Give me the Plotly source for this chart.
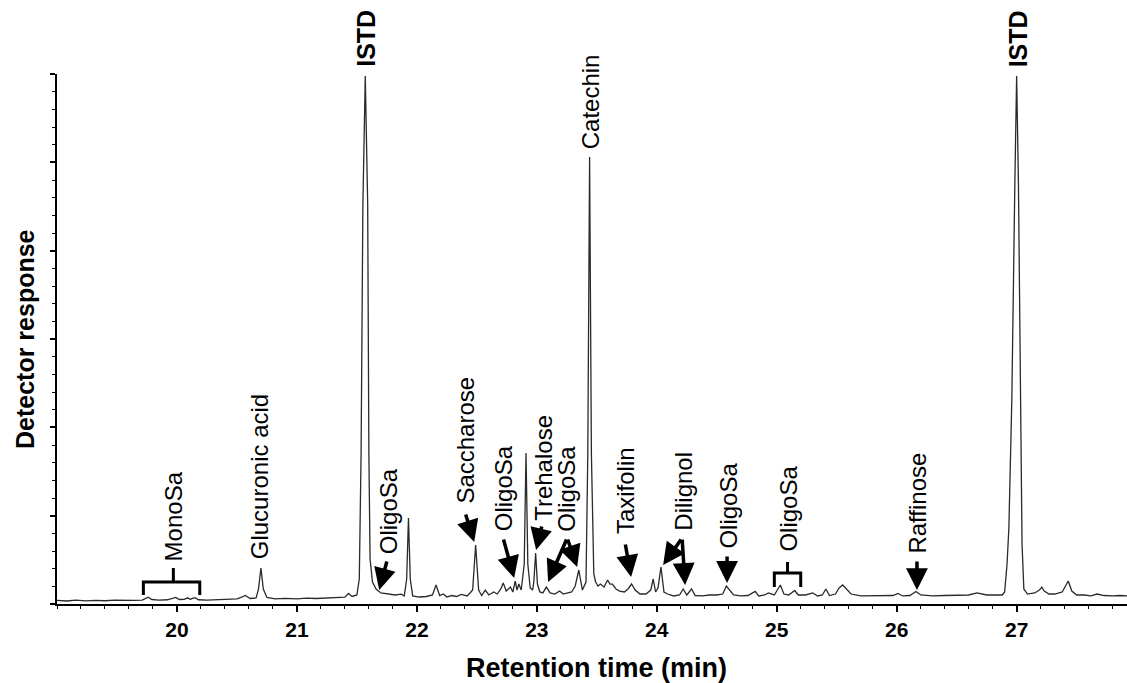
import plotly.graph_objects as go

# ---- chromatogram trace (retention time in min, detector response in arbitrary units) ----
retention_time = [
    19.00, 19.08, 19.16, 19.24, 19.32, 19.40, 19.48, 19.56, 19.64, 19.71,
    19.74, 19.76, 19.79, 19.85, 19.92, 19.97, 19.99, 20.02, 20.06, 20.09,
    20.11, 20.15, 20.18, 20.25, 20.33, 20.42, 20.50, 20.54, 20.57, 20.61,
    20.66, 20.68, 20.70, 20.72, 20.75, 20.82, 20.90, 21.00, 21.08, 21.16,
    21.25, 21.33, 21.40, 21.43, 21.46, 21.50, 21.52, 21.535, 21.55, 21.57,
    21.59, 21.60, 21.61, 21.63, 21.66, 21.70, 21.76, 21.82, 21.87, 21.895,
    21.915, 21.93, 21.945, 21.965, 22.02, 22.08, 22.13, 22.16, 22.19, 22.22,
    22.25, 22.29, 22.33, 22.37, 22.42, 22.465, 22.49, 22.515, 22.54, 22.57,
    22.60, 22.64, 22.67, 22.70, 22.72, 22.745, 22.78, 22.80, 22.82, 22.835,
    22.85, 22.87, 22.895, 22.91, 22.925, 22.945, 22.965, 22.975, 22.99, 23.005,
    23.025, 23.05, 23.08, 23.11, 23.15, 23.19, 23.22, 23.25, 23.29, 23.32,
    23.35, 23.38, 23.41, 23.425, 23.44, 23.455, 23.475, 23.49, 23.51, 23.53,
    23.56, 23.59, 23.61, 23.63, 23.66, 23.69, 23.73, 23.76, 23.79, 23.82,
    23.86, 23.91, 23.95, 23.97, 23.99, 24.01, 24.035, 24.06, 24.09, 24.14,
    24.19, 24.22, 24.25, 24.29, 24.32, 24.38, 24.44, 24.50, 24.55, 24.58,
    24.61, 24.64, 24.70, 24.76, 24.82, 24.85, 24.90, 24.93, 24.98, 25.03,
    25.06, 25.10, 25.15, 25.18, 25.24, 25.30, 25.34, 25.38, 25.41, 25.44,
    25.49, 25.52, 25.55, 25.58, 25.62, 25.70, 25.80, 25.90, 25.97, 26.01,
    26.05, 26.11, 26.16, 26.20, 26.30, 26.40, 26.50, 26.60, 26.67, 26.75,
    26.82, 26.88, 26.90, 26.92, 26.935, 26.96, 26.985, 27.00, 27.015, 27.03,
    27.045, 27.06, 27.09, 27.15, 27.19, 27.21, 27.23, 27.27, 27.32, 27.38,
    27.41, 27.43, 27.46, 27.50, 27.56, 27.62, 27.67, 27.73, 27.80, 27.86,
    27.92,
]
detector_response = [
    4.0, 3.4, 4.3, 3.6, 4.1, 3.7, 4.3, 3.8, 4.1, 4.3,
    6.2, 7.7, 5.1, 4.5, 4.8, 6.6, 7.5, 5.1, 5.2, 7.0,
    5.4, 7.2, 4.8, 4.5, 5.0, 5.2, 5.9, 7.9, 9.6, 6.2,
    6.8, 17.0, 40.8, 17.0, 7.4, 5.9, 6.3, 5.9, 6.6, 6.2,
    6.6, 7.0, 7.7, 11.9, 8.5, 10.2, 28.3, 169.8, 452.8, 597.7,
    452.8, 169.8, 50.9, 24.9, 17.0, 12.5, 11.3, 10.2, 11.1, 9.1,
    28.3, 97.4, 28.3, 9.1, 7.9, 8.5, 10.2, 21.5, 9.6, 11.3,
    7.9, 9.6, 8.5, 10.8, 9.1, 15.8, 66.8, 15.8, 9.6, 15.8,
    10.2, 13.6, 11.3, 17.0, 23.8, 14.7, 19.2, 13.6, 26.0, 15.8,
    22.6, 15.8, 45.3, 170.9, 45.3, 18.1, 15.8, 24.9, 57.7, 22.6,
    13.6, 12.5, 19.2, 12.5, 11.3, 14.7, 11.3, 12.5, 13.6, 20.4,
    38.5, 15.8, 24.9, 169.8, 506.0, 169.8, 34.0, 24.9, 20.4, 22.6,
    19.2, 27.2, 22.6, 22.6, 17.0, 14.7, 13.6, 17.0, 22.6, 15.8,
    11.3, 11.3, 15.8, 28.3, 13.6, 18.1, 41.9, 13.6, 11.3, 9.1,
    10.2, 17.0, 10.2, 17.0, 9.6, 9.1, 10.2, 10.2, 11.3, 20.4,
    14.7, 10.2, 9.1, 9.6, 14.2, 9.1, 10.2, 12.5, 10.2, 21.5,
    11.3, 10.2, 15.3, 10.2, 10.2, 12.5, 9.1, 10.2, 17.0, 9.6,
    11.3, 18.1, 21.5, 17.0, 11.3, 9.1, 9.1, 9.6, 9.6, 11.9,
    9.1, 9.6, 14.2, 10.2, 9.1, 9.6, 9.6, 10.2, 12.5, 10.2,
    10.2, 10.2, 13.6, 45.3, 84.9, 232.0, 475.4, 597.7, 475.4, 232.0,
    67.9, 17.0, 11.3, 12.5, 15.8, 19.2, 14.7, 11.3, 11.3, 13.6,
    21.5, 26.0, 14.7, 10.2, 10.2, 9.1, 11.3, 9.6, 9.1, 9.6,
    9.1,
]

# ---- axis ticks ----
x_tick_values = [20, 21, 22, 23, 24, 25, 26, 27]
x_tick_labels = ["20", "21", "22", "23", "24", "25", "26", "27"]

# ---- peak labels: text, x (min), label base (response units) ----
label_texts = ["MonoSa", "Glucuronic acid", "OligoSa", "Saccharose", "OligoSa",
               "Trehalose", "OligoSa", "Catechin", "Taxifolin", "Dilignol", "OligoSa",
               "OligoSa", "Raffinose"]
label_x = [19.97, 20.69, 21.77, 22.41, 22.72,
           23.05, 23.25, 23.45, 23.74, 24.22, 24.59,
           25.09, 26.17]
label_base = [47.5, 49.8, 55.5, 112.0, 81.5,
              92.8, 80.4, 514.0, 78.1, 81.5, 61.1,
              57.7, 55.5]

# internal standard labels (above the plot top)
istd_texts = ["ISTD", "ISTD"]
istd_x = [21.57, 27.01]

# ---- arrows: tail (x, y) -> head (x, y) ----
arrow_tail_x = [21.753, 22.403, 22.719, 23.044, 23.253, 23.253, 23.736, 24.211, 24.211, 24.586, 26.169]
arrow_tail_y = [49.8, 103.0, 74.7, 89.4, 74.7, 74.7, 69.0, 74.7, 74.7, 55.5, 49.8]
arrow_head_x = [21.686, 22.478, 22.811, 22.994, 23.094, 23.336, 23.786, 24.053, 24.236, 24.586, 26.169]
arrow_head_y = [15.8, 70.2, 29.4, 61.1, 24.9, 41.9, 30.6, 44.1, 21.5, 23.8, 15.8]

# ---- brackets: left x, right x, centre x, bar y, end y, tip y ----
bracket_left = [19.72, 24.98]
bracket_right = [20.19, 25.20]
bracket_mid = [19.97, 25.09]
bracket_bar = [24.9, 35.1]
bracket_end = [10.2, 19.2]
bracket_tip = [40.8, 47.5]

FONT = "Liberation Sans, Arial, sans-serif"

fig = go.Figure()
fig.add_trace(go.Scatter(
    x=retention_time, y=detector_response, mode="lines",
    line=dict(color="#2a2a2a", width=1.3), showlegend=False, hoverinfo="skip",
))

annotations = []
for t, lx, lb in zip(label_texts, label_x, label_base):
    annotations.append(dict(
        x=lx, y=lb, xref="x", yref="y", text=t, showarrow=False,
        textangle=-90, xanchor="center", yanchor="bottom",
        font=dict(family=FONT, size=24, color="black"),
        borderpad=0,
    ))
for t, lx in zip(istd_texts, istd_x):
    annotations.append(dict(
        x=lx, y=1 + 6 / 530, xref="x", yref="paper", text=t, showarrow=False,
        textangle=-90, xanchor="center", yanchor="bottom",
        font=dict(family=FONT, size=25, color="black", weight="bold"),
        borderpad=0,
    ))

for tx, ty, hx, hy in zip(arrow_tail_x, arrow_tail_y, arrow_head_x, arrow_head_y):
    annotations.append(dict(
        x=hx, y=hy, ax=tx, ay=ty, xref="x", yref="y", axref="x", ayref="y",
        text="", showarrow=True, arrowhead=2, arrowsize=1.25, arrowwidth=3.5,
        arrowcolor="black", standoff=0, startstandoff=0,
    ))

# axis titles
annotations.append(dict(
    x=-32 / 1070, y=0.5, xref="paper", yref="paper", text="Detector response",
    showarrow=False, textangle=-90, xanchor="center", yanchor="middle",
    font=dict(family=FONT, size=25, color="black", weight="bold"),
))
annotations.append(dict(
    x=(597 - 57) / 1070, y=-(668 - 604) / 530, xref="paper", yref="paper",
    text="Retention time (min)",
    showarrow=False, xanchor="center", yanchor="middle",
    font=dict(family=FONT, size=27, color="black", weight="bold"),
))

shapes = []
for bl, br, bm, bb, be, bt in zip(bracket_left, bracket_right, bracket_mid,
                                  bracket_bar, bracket_end, bracket_tip):
    path = (f"M {bl},{be} L {bl},{bb} L {br},{bb} L {br},{be} "
            f"M {bm},{bb} L {bm},{bt}")
    shapes.append(dict(type="path", xref="x", yref="y", path=path,
                       line=dict(color="black", width=3)))

fig.update_layout(
    width=1127, height=683,
    margin=dict(l=57, r=0, t=74, b=79),
    paper_bgcolor="white", plot_bgcolor="white",
    annotations=annotations, shapes=shapes,
    showlegend=False,
)
fig.update_xaxes(
    range=[19.0, 27.92], tickmode="array", tickvals=x_tick_values, ticktext=x_tick_labels,
    showline=True, linecolor="black", linewidth=1.5, mirror=False,
    ticks="outside", ticklen=6, tickwidth=1.5, tickcolor="black",
    tickfont=dict(family=FONT, size=21, color="black", weight="bold"),
    showgrid=False, zeroline=False,
    minor=dict(tick0=19.0, dtick=0.2, ticks="outside", ticklen=3, tickwidth=1.2,
               tickcolor="black", showgrid=False),
)
fig.update_yaxes(
    range=[0, 600], dtick=100, tick0=0, showticklabels=False,
    showline=True, linecolor="black", linewidth=1.8,
    ticks="outside", ticklen=5, tickwidth=1.5, tickcolor="black",
    showgrid=False, zeroline=False,
    minor=dict(dtick=20, ticks="outside", ticklen=3, tickwidth=1.2,
               tickcolor="black", showgrid=False),
)

fig.write_html(
    "out.html",
    config={"displayModeBar": False},
    post_script="document.body.style.margin='0px';document.body.style.overflow='hidden';",
)
